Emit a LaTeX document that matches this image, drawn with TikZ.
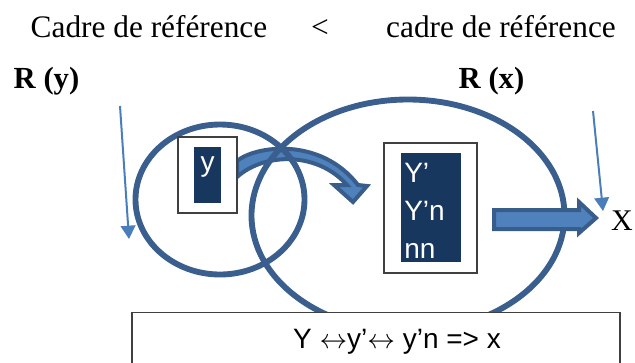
\documentclass[tikz,border=0pt]{standalone}
\usepackage{fontspec}
\setmainfont{Liberation Serif}
\newfontfamily\arial{Liberation Sans}
\usetikzlibrary{arrows.meta}
\definecolor{ringblue}{HTML}{3A5F8E}
\definecolor{pointerblue}{HTML}{4A7EBB}
\definecolor{boxnavy}{HTML}{17375E}
\definecolor{blockfill}{HTML}{4F81BD}
\definecolor{blockline}{HTML}{385D8A}
\begin{document}
\begin{tikzpicture}[x=0.75pt,y=-0.75pt,line join=miter,
  ring/.style={draw=ringblue,line width=4.4pt},
  pointer/.style={draw=pointerblue,line width=1.5pt,-{Triangle[length=10pt,width=11pt]}},
  frame/.style={draw=black!75,fill=white,line width=1.1pt,inner sep=0pt},
  navybox/.style={fill=boxnavy,inner sep=0pt},
  serif/.style={font=\fontsize{23.5}{28}\selectfont,inner sep=0pt},
  bold/.style={font=\fontsize{23}{28}\selectfont\bfseries,inner sep=0pt},
  wtext/.style={font=\arial\fontsize{21}{25}\selectfont,text=white,inner sep=0pt},
  eqtext/.style={font=\arial\fontsize{21}{25}\selectfont,inner sep=0pt},
  block/.style={fill=blockfill,draw=blockline,line width=3pt}]
\useasboundingbox (0,0) rectangle (635,362);
\clip (0,0) rectangle (635,362);
% titles
\node[serif,anchor=base] (cadre1) at (149,37) {Cadre de référence};
\node[serif,anchor=base] (lt) at (320,37) {<};
\node[serif,anchor=base] (cadre2) at (501,37) {cadre de référence};
\node[bold,anchor=base] (ry) at (46.5,88) {R (y)};
\node[bold,anchor=base] (rx) at (491.5,88) {R (x)};
% curved block arrow
\path[block] (237,161) .. controls (255,146) and (320,136) .. (358,185)
  -- (367,186) -- (353,202) -- (334,185) -- (347,185)
  .. controls (318,152) and (265,152) .. (237,177) -- cycle;
% the two frames of reference
\draw[ring] (220,199.5) ellipse [x radius=84.5, y radius=75];
\draw[ring] (408,215.5) ellipse [x radius=156.5, y radius=116];
% y box
\node[frame,minimum width=44.25pt,minimum height=57pt] (yframe) at (207.5,175) {};
\node[navybox,minimum width=20.25pt,minimum height=42pt] (ynavy) at (207.5,175) {};
\node[wtext,anchor=base] (ylab) at (207.5,171) {y};
% Y' box
\node[frame,minimum width=69.75pt,minimum height=97.5pt] (ypframe) at (430.5,208) {};
\node[navybox,minimum width=45pt,minimum height=81.75pt] (ypnavy) at (431,207.5) {};
\node[wtext,anchor=base west] (yp1) at (404,182) {Y’};
\node[wtext,anchor=base west] (yp2) at (404,220) {Y’n};
\node[wtext,anchor=base west] (yp3) at (404,258) {nn};
% straight block arrow
\path[block] (494,210) -- (579,210) -- (579,202) -- (596,218)
  -- (579,233) -- (579,229) -- (494,229) -- cycle;
\node[font=\fontsize{22.5}{26}\selectfont,inner sep=0pt,anchor=base] (xlab) at (622,230) {X};
% pointers
\coordinate (lstart) at (120,106);
\coordinate (ltip) at (129,239);
\coordinate (rstart) at (593,111);
\coordinate (rtip) at (603,211);
\draw[pointer] (lstart) -- (ltip);
\draw[pointer] (rstart) -- (rtip);
% bottom box
\node[frame,minimum width=366pt,minimum height=52pt] (eqbox) at (376,347) {};
\node[eqtext,anchor=base] (chain) at (397,348) {Y $\leftrightarrow$y’$\leftrightarrow$ y’n => x};
\end{tikzpicture}
\end{document}
